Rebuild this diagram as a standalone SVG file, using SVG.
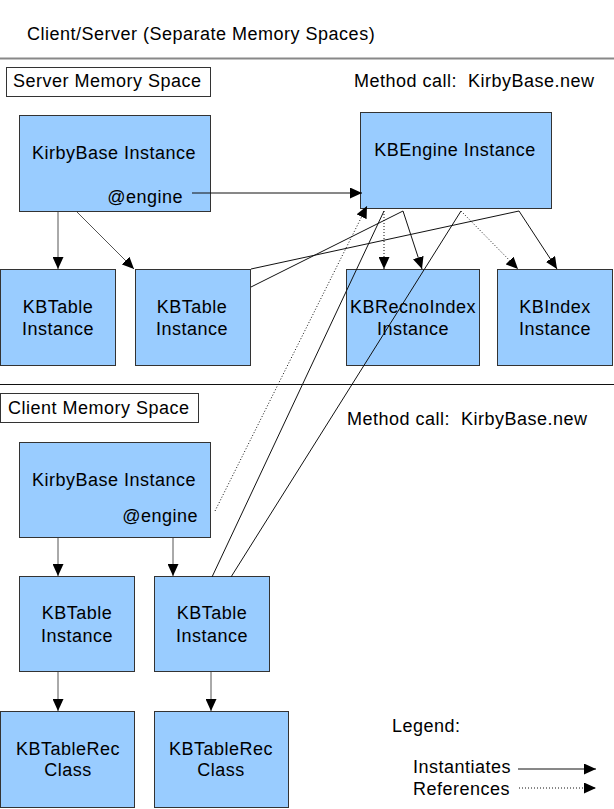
<svg xmlns="http://www.w3.org/2000/svg" width="614" height="809" viewBox="0 0 614 809">
<style>
text{font-family:"Liberation Sans",Arial,sans-serif;font-size:18px;fill:#000;letter-spacing:0.5px}
.c{text-anchor:middle}
.r{text-anchor:end}
.node{fill:#99CCFF;stroke:#333;stroke-width:1}
.lbl{fill:#fff;stroke:#333;stroke-width:1}
.ln{fill:none;stroke:#111;stroke-width:1}
.gl{fill:none;stroke:#555;stroke-width:1}
.dt{fill:none;stroke:#111;stroke-width:1;stroke-dasharray:1,2}
</style>
<defs>
<marker id="ah" markerUnits="userSpaceOnUse" markerWidth="12" markerHeight="11" refX="12" refY="5.5" orient="auto">
<path d="M0,0 L12,5.5 L0,11 z" fill="#000"/>
</marker>
</defs>
<rect width="614" height="809" fill="#fff"/>
<text x="27" y="40">Client/Server (Separate Memory Spaces)</text>
<line x1="0" y1="58.5" x2="614" y2="58.5" stroke="#888" stroke-width="2"/>
<line x1="0" y1="384.5" x2="614" y2="384.5" stroke="#111" stroke-width="1"/>

<g id="server-label"><rect class="lbl" x="6.5" y="67.5" width="204" height="29"/><text x="13" y="87">Server Memory Space</text></g>
<text x="354" y="87">Method call:&#160; KirbyBase.new</text>
<g id="client-label"><rect class="lbl" x="0.5" y="393.5" width="198" height="29"/><text x="8" y="414">Client Memory Space</text></g>
<text x="347" y="425">Method call:&#160; KirbyBase.new</text>

<g id="s-kirbybase"><rect class="node" x="19.5" y="115.5" width="191" height="96"/><text class="c" x="114" y="159">KirbyBase Instance</text><text class="r" x="183" y="203">@engine</text></g>
<g id="s-kbengine"><rect class="node" x="360.5" y="112.5" width="191" height="96"/><text class="c" x="455" y="156">KBEngine Instance</text></g>
<g id="s-kbtable1"><rect class="node" x="0.5" y="269.5" width="115" height="96"/><text class="c" x="58" y="313">KBTable</text><text class="c" x="58" y="335">Instance</text></g>
<g id="s-kbtable2"><rect class="node" x="135.5" y="269.5" width="115" height="96"/><text class="c" x="192" y="313">KBTable</text><text class="c" x="192" y="335">Instance</text></g>
<g id="s-kbrecnoindex"><rect class="node" x="346.5" y="269.5" width="133" height="96"/><text class="c" x="413" y="313">KBRecnoIndex</text><text class="c" x="413" y="335">Instance</text></g>
<g id="s-kbindex"><rect class="node" x="497.5" y="269.5" width="115" height="96"/><text class="c" x="555" y="313">KBIndex</text><text class="c" x="555" y="335">Instance</text></g>

<g id="c-kirbybase"><rect class="node" x="19.5" y="442.5" width="191" height="95"/><text class="c" x="114" y="486">KirbyBase Instance</text><text class="r" x="198" y="522">@engine</text></g>
<g id="c-kbtable1"><rect class="node" x="19.5" y="576.5" width="115" height="95"/><text class="c" x="77" y="619">KBTable</text><text class="c" x="77" y="642">Instance</text></g>
<g id="c-kbtable2"><rect class="node" x="154.5" y="576.5" width="115" height="95"/><text class="c" x="212" y="619">KBTable</text><text class="c" x="212" y="642">Instance</text></g>
<g id="c-kbtablerec1"><rect class="node" x="0.5" y="711.5" width="134" height="96"/><text class="c" x="68" y="755">KBTableRec</text><text class="c" x="68" y="776">Class</text></g>
<g id="c-kbtablerec2"><rect class="node" x="154.5" y="711.5" width="134" height="96"/><text class="c" x="221" y="755">KBTableRec</text><text class="c" x="221" y="776">Class</text></g>

<g id="legend"><text x="392" y="732">Legend:</text><text x="413" y="773">Instantiates</text><text x="413" y="795">References</text></g>

<g id="connectors">
<line class="ln" x1="192" y1="193" x2="362" y2="193" marker-end="url(#ah)"/>
<line class="gl" x1="58" y1="212" x2="58" y2="269" marker-end="url(#ah)"/>
<line class="gl" x1="77" y1="212" x2="134" y2="269" marker-end="url(#ah)"/>
<polyline class="ln" points="251,269 519,211 557,269" marker-end="url(#ah)"/>
<polyline class="ln" points="251,287 403,211 422,269" marker-end="url(#ah)"/>
<line class="dt" x1="384" y1="211" x2="384" y2="269" marker-end="url(#ah)"/>
<line class="dt" x1="461" y1="211" x2="518" y2="269" marker-end="url(#ah)"/>
<line class="dt" x1="215" y1="511" x2="367" y2="206" marker-end="url(#ah)"/>
<line class="ln" x1="212" y1="577" x2="384" y2="211"/>
<line class="ln" x1="231" y1="577" x2="461" y2="211"/>
<line class="gl" x1="58" y1="538" x2="58" y2="576" marker-end="url(#ah)"/>
<line class="gl" x1="173" y1="538" x2="173" y2="576" marker-end="url(#ah)"/>
<line class="gl" x1="58" y1="672" x2="58" y2="711" marker-end="url(#ah)"/>
<line class="gl" x1="211" y1="672" x2="211" y2="711" marker-end="url(#ah)"/>
<line class="ln" x1="518" y1="769" x2="596" y2="769" marker-end="url(#ah)"/>
<line class="dt" x1="519" y1="788" x2="596" y2="788" marker-end="url(#ah)"/>
</g>
</svg>
